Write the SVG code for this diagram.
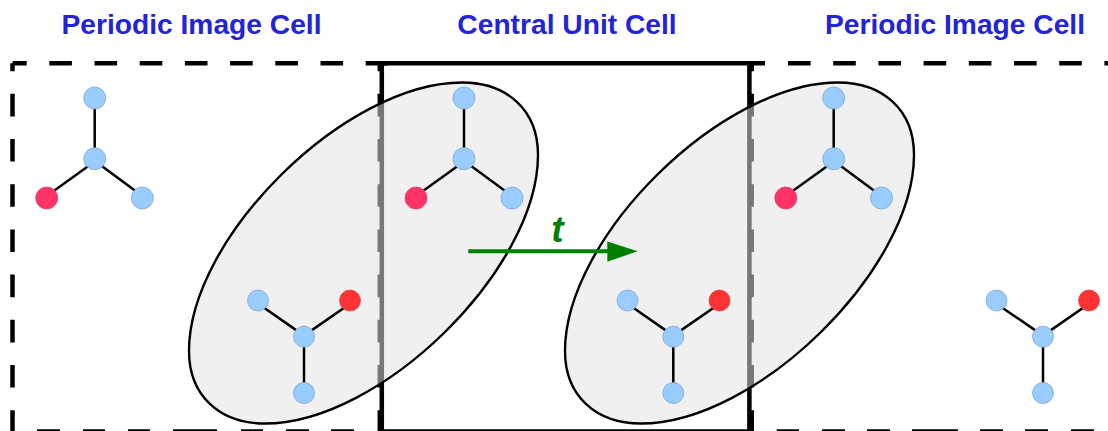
<svg xmlns="http://www.w3.org/2000/svg" width="1108" height="431" viewBox="0 0 1108 431">
<style>
.title{font-family:"Liberation Sans",Arial,sans-serif;font-size:28.2px;font-weight:bold;fill:#2323d9;text-anchor:middle}
.dash{fill:none;stroke:#000;stroke-width:4.5;stroke-dasharray:22.6 22.6}
.solid{fill:none;stroke:#000;stroke-width:4.5}
.bond{stroke:#000;stroke-width:2.5;fill:none}
.blue{fill:#99ccff;stroke:#7ea6d1;stroke-width:.8}
.pink{fill:#ff3366;stroke:#e0406c;stroke-width:.8}
.red{fill:#ff3333;stroke:#e04040;stroke-width:.8}
.blob{fill:#e3e3e3;fill-opacity:.525;stroke:#000;stroke-width:2.4}
</style>
<defs>
<path id="blob" d="M462 82.500C507 82.500 538 110 538 155C538 269 381 423.500 265 423.500C220 423.500 189 396 189 351C189 237 346 82.500 462 82.500Z"/>
</defs>
<rect width="1108" height="431" fill="#fff"/>
<g id="cells">
<path class="dash" stroke-dashoffset="8.4" d="M12.500 63.300H388"/>
<path class="dash" stroke-dashoffset="14.700" d="M12.500 63.300V431"/>
<path class="solid" d="M37 431.500H60M83 431.500H105M128 431.500H150M173 431.500H217M241 431.500H263M286 431.500H309M331 431.500H354"/>
<path class="dash" stroke-dashoffset="14.700" d="M379.800 63.300V431"/>
<path class="solid" d="M381.800 63.300V431M749.400 63.300V431M382 63.300H765M380 431.500H752"/>
<path class="dash" d="M788 63.300H1108"/>
<path class="dash" stroke-dashoffset="14.700" d="M751.700 63.300V431"/>
<path class="solid" d="M776.700 431.500H799M822 431.500H845M867 431.500H890M912 431.500H958M980 431.500H1003M1025 431.500H1048M1071 431.500H1094"/>
</g>
<g id="blob-left"><use href="#blob" class="blob"/></g>
<g id="blob-right"><use href="#blob" class="blob" x="376"/></g>
<g id="connectors">
<path class="bond" d="M94.700 98V158M94.700 161.500L46.700 196M94.700 160.700L142.300 196"/>
<path class="bond" d="M464 98V158M464 161.500L416 196M464 160.700L512 196"/>
<path class="bond" d="M833.700 98V158M833.700 161.500L785.700 196M833.700 160.700L881.300 196"/>
<path class="bond" d="M304 393V337M304 335.600L258.300 303.700M304 335.600L350 303.700"/>
<path class="bond" d="M673.300 393V337M673.300 335.600L627.500 303.700M673.300 335.600L719.500 303.700"/>
<path class="bond" d="M1043 393V337M1043 335.600L996.500 303.700M1043 335.600L1089 303.700"/>
<path d="M468.300 251.300H610" stroke="#008000" stroke-width="4" fill="none"/>
<path d="M607.300 241.500L637.700 251.300L607.300 261.700Z" fill="#008000"/>
</g>
<g id="mol-1"><circle class="blue" cx="94.700" cy="98" r="11"/><circle class="blue" cx="94.700" cy="158.700" r="11"/><circle class="pink" cx="46.700" cy="198" r="11"/><circle class="blue" cx="142.300" cy="198" r="11"/></g>
<g id="mol-2"><circle class="blue" cx="464" cy="98" r="11"/><circle class="blue" cx="464" cy="158.700" r="11"/><circle class="pink" cx="416" cy="198" r="11"/><circle class="blue" cx="512" cy="198" r="11"/></g>
<g id="mol-3"><circle class="blue" cx="833.700" cy="98" r="11"/><circle class="blue" cx="833.700" cy="158.700" r="11"/><circle class="pink" cx="785.800" cy="198" r="11"/><circle class="blue" cx="881.500" cy="198" r="11"/></g>
<g id="mol-4"><circle class="blue" cx="258" cy="300.500" r="10.500"/><circle class="red" cx="350" cy="300.500" r="10.500"/><circle class="blue" cx="304" cy="336.700" r="10.500"/><circle class="blue" cx="304" cy="393" r="10.500"/></g>
<g id="mol-5"><circle class="blue" cx="627.500" cy="300.500" r="10.500"/><circle class="red" cx="719.500" cy="300.500" r="10.500"/><circle class="blue" cx="673.300" cy="336.700" r="10.500"/><circle class="blue" cx="673.300" cy="393" r="10.500"/></g>
<g id="mol-6"><circle class="blue" cx="996.500" cy="300.500" r="10.500"/><circle class="red" cx="1089" cy="300.500" r="10.500"/><circle class="blue" cx="1043" cy="336.700" r="10.500"/><circle class="blue" cx="1043" cy="393" r="10.500"/></g>
<text class="title" x="191.500" y="34">Periodic Image Cell</text>
<text class="title" x="567" y="34">Central Unit Cell</text>
<text class="title" x="955" y="34">Periodic Image Cell</text>
<text x="557.500" y="241.500" font-family="'Liberation Sans',Arial,sans-serif" font-size="37" font-weight="bold" font-style="italic" fill="#008000" text-anchor="middle">t</text>
</svg>
